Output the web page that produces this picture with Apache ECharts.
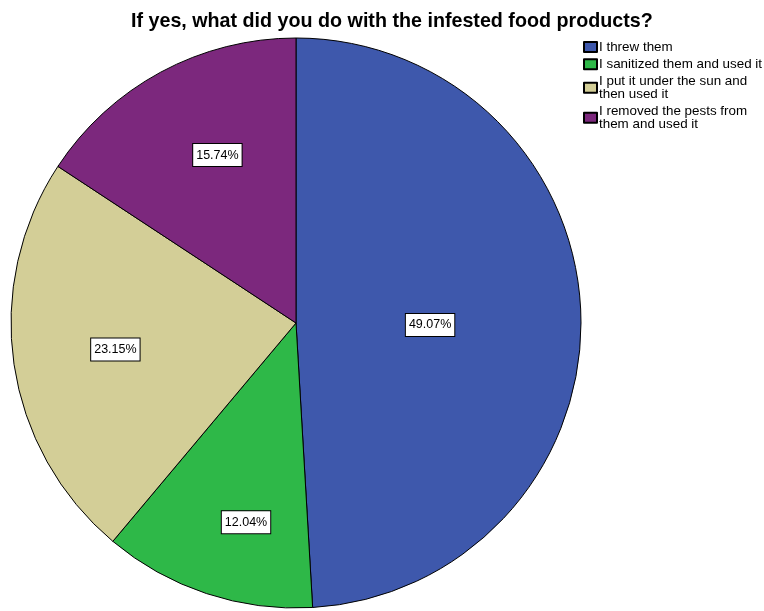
<!DOCTYPE html>
<html>
<head>
<meta charset="utf-8">
<script src="https://cdn.jsdelivr.net/npm/echarts@6/dist/echarts.min.js"></script>
<style>
  html, body { margin: 0; padding: 0; background: #fff; }
  #main { width: 764px; height: 611px; }
</style>
</head>
<body>
<div id="main"></div>
<script>
var categories = [
    'I threw them',
    'I sanitized them and used it',
    'I put it under the sun and then used it',
    'I removed the pests from them and used it'
];
var percents = [49.07, 12.04, 23.15, 15.74];
var legendLabels = [
    'I threw them',
    'I sanitized them and used it',
    'I put it under the sun and\nthen used it',
    'I removed the pests from\nthem and used it'
];

var colors = ['#3e58ac', '#2eb848', '#d3ce97', '#7c287d'];
// label placement: fraction of radius and angle shift (deg) from slice middle
var labelRadius = [0.46, 0.71, 0.63, 0.64];
var labelTurn = [2.6, -4.3, 0, 3.3];
var cx = 296, cy = 323, R = 285;

var myChart = echarts.init(document.getElementById('main'));

var pieData = categories.map(function (name, i) {
    return { name: name, value: percents[i], itemStyle: { color: colors[i] } };
});

// mid angles, clockwise from 12 o'clock
var total = percents.reduce(function (a, b) { return a + b; }, 0);
var midAngles = [];
var acc = 0;
percents.forEach(function (v) {
    midAngles.push((acc + v / 2) / total * Math.PI * 2);
    acc += v;
});

var option = {
    backgroundColor: '#fff',
    title: {
        text: 'If yes, what did you do with the infested food products?',
        left: 126,
        top: 7,
        textStyle: {
            fontFamily: 'Liberation Sans',
            fontSize: 19.7,
            fontWeight: 'bold',
            color: '#000'
        }
    },
    legend: {
        orient: 'vertical',
        left: 583,
        top: 40.5,
        padding: 0,
        itemWidth: 13,
        itemHeight: 10,
        itemGap: 4.3,
        icon: 'rect',
        data: categories,
        formatter: function (name) {
            return legendLabels[categories.indexOf(name)];
        },
        textStyle: {
            fontFamily: 'Liberation Sans',
            fontSize: 13.4,
            lineHeight: 12.5,
            color: '#000',
            padding: [0, 0, 0, -3]
        }
    },
    series: [{
        type: 'pie',
        center: [cx, cy],
        radius: [0, R],
        startAngle: 90,
        clockwise: true,
        animation: false,
        silent: true,
        itemStyle: {
            borderColor: '#000',
            borderWidth: 1
        },
        label: {
            show: true,
            position: 'inside',
            formatter: function (p) { return p.value.toFixed(2) + '%'; },
            fontFamily: 'Liberation Sans',
            fontSize: 12.5,
            color: '#000',
            backgroundColor: '#fff',
            borderColor: '#000',
            borderWidth: 1,
            padding: [5, 3, 4, 3]
        },
        labelLayout: function (params) {
            var i = params.dataIndex;
            var a = midAngles[i];
            var b = a + labelTurn[i] * Math.PI / 180;
            var r = labelRadius[i] * R;
            var h = 0.5 * R;
            return {
                dx: r * Math.sin(b) - h * Math.sin(a),
                dy: -r * Math.cos(b) + h * Math.cos(a)
            };
        },
        data: pieData
    }]
};

myChart.setOption(option);
</script>
</body>
</html>
